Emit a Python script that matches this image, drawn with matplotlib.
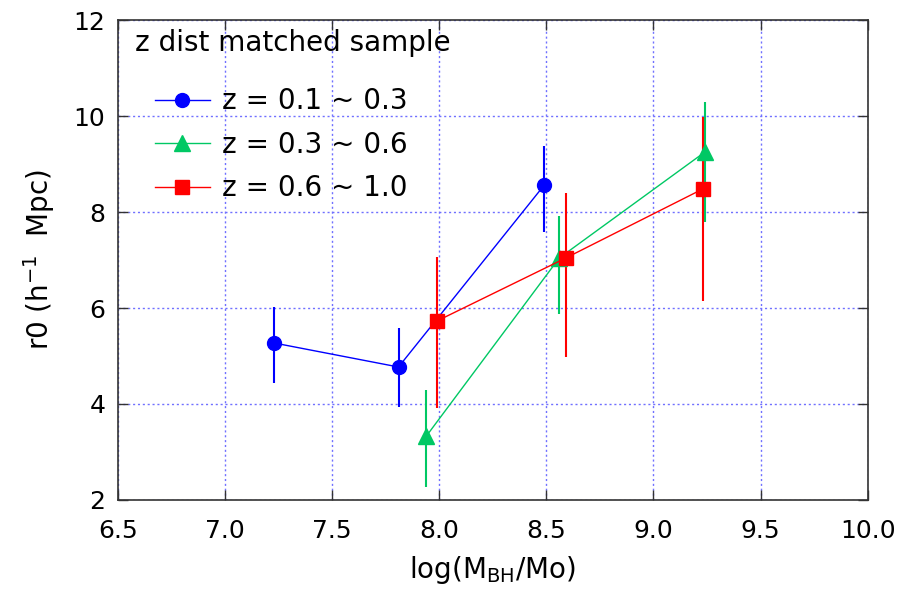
import numpy as np
import matplotlib
matplotlib.use('Agg')
import matplotlib.pyplot as plt
from matplotlib.lines import Line2D
from matplotlib.ticker import FormatStrFormatter

# z = 0.1 ~ 0.3
x_low = [7.23, 7.81, 8.49]
y_low = [5.27, 4.77, 8.56]
lo_low = [0.83, 0.83, 0.98]
hi_low = [0.75, 0.81, 0.82]

# z = 0.3 ~ 0.6
x_mid = [7.94, 8.56, 9.24]
y_mid = [3.33, 7.04, 9.25]
lo_mid = [1.06, 1.17, 1.46]
hi_mid = [0.96, 0.88, 1.04]

# z = 0.6 ~ 1.0
x_high = [7.99, 8.59, 9.23]
y_high = [5.73, 7.04, 8.48]
lo_high = [1.81, 2.06, 2.33]
hi_high = [1.33, 1.36, 1.50]

labels = ['z = 0.1 ~ 0.3', 'z = 0.3 ~ 0.6', 'z = 0.6 ~ 1.0']

plt.rcParams['font.family'] = ['DejaVu Sans']

fig = plt.figure(figsize=(9, 5.93), dpi=100)
ax = fig.add_axes([0.131, 0.157, 0.833, 0.809])

series = [
    (x_low, y_low, lo_low, hi_low, '#0000ff', 'o', 10),
    (x_mid, y_mid, lo_mid, hi_mid, '#00c864', '^', 11),
    (x_high, y_high, lo_high, hi_high, '#ff0000', 's', 10),
]
handles = []
for (xs, ys, lo, hi, c, m, ms), lab in zip(series, labels):
    ax.errorbar(xs, ys, yerr=[lo, hi], color=c, marker=m, markersize=ms, lw=1,
                elinewidth=1.5, capsize=0, zorder=3)
    handles.append(Line2D([], [], color=c, marker=m, markersize=ms, lw=1, label=lab))

ax.set_xlim(6.5, 10.0)
ax.set_ylim(2, 12)
ax.set_xticks(np.arange(6.5, 10.01, 0.5))
ax.set_yticks(np.arange(2, 12.1, 2))
ax.xaxis.set_major_formatter(FormatStrFormatter('%.1f'))
ax.grid(True, color='#7070ff', linestyle=(0, (1.5, 2)), lw=1)
ax.tick_params(direction='in', length=7, width=1, top=True, right=True,
               labelsize=18, pad=9, color='#333333')
ax.tick_params(axis='x', pad=14)
for s in ax.spines.values():
    s.set_color('#333333')
    s.set_linewidth(1.2)

ax.set_xlabel(r'log(M$_{\mathregular{BH}}$/Mo)', fontsize=20, labelpad=8)
ax.set_ylabel(r'r0 (h$^{\mathregular{-1}}$  Mpc)', fontsize=20, labelpad=12)

# legend title drawn separately, entries indented below it
ax.text(0.023, 0.952, 'z dist matched sample', transform=ax.transAxes,
        fontsize=20, ha='left', va='center')
leg = ax.legend(handles=handles, loc='upper left', bbox_to_anchor=(0.049, 0.86),
                frameon=False, fontsize=20, handlelength=1.98, handletextpad=0.43,
                borderaxespad=0, borderpad=0, labelspacing=0.56)

fig.savefig('out.png', dpi=100)
